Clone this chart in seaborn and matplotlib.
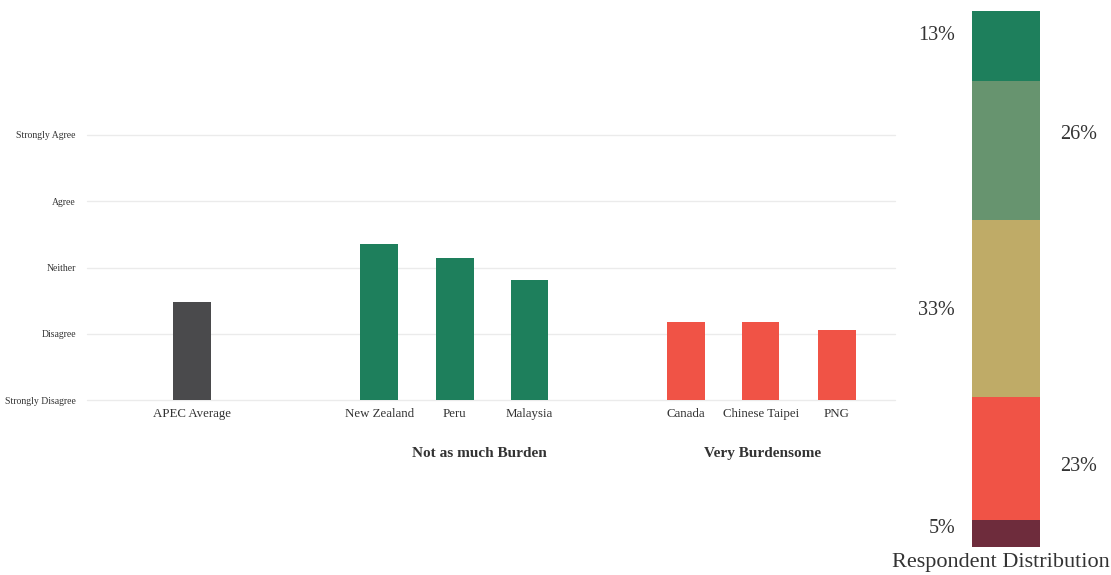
import matplotlib
matplotlib.use('Agg')
import matplotlib.pyplot as plt
import pandas as pd
import seaborn as sns

# datos
paises = ['APEC Average', 'New Zealand', 'Peru', 'Malaysia', 'Canada', 'Chinese Taipei', 'PNG']
posiciones = [0, 2.48, 3.48, 4.47, 6.54, 7.53, 8.54]
puntaje = [2.48, 3.35, 3.14, 2.81, 2.18, 2.18, 2.06]
colores_barras = ['#4a4a4c', '#1e7f5c', '#1e7f5c', '#1e7f5c', '#f05346', '#f05346', '#f05346']
escala = ['Strongly Disagree', 'Disagree', 'Neither', 'Agree', 'Strongly Agree']
grupos = ['Not as much Burden', 'Very Burdensome']
grupos_x = [3.81, 7.55]

distribucion = [5, 23, 33, 26, 13]
colores_dist = ['#6e2c3c', '#f05346', '#bfab67', '#67946f', '#1e7f5c']
lado_etiqueta = ['left', 'right', 'left', 'right', 'left']
y_etiqueta = [3.4, 15.1, 44.2, 76.9, 95.5]

sns.set_theme(style='white')
plt.rcParams['font.family'] = ['Liberation Serif', 'DejaVu Serif']
texto = '#333333'

fig = plt.figure(figsize=(11.11, 5.75), dpi=100)

# grafico principal
ax = fig.add_axes([87/1111, 175/575, 808/1111, 265/575])
df = pd.DataFrame({'pais': paises, 'x': posiciones, 'y': puntaje})
sns.barplot(data=df, x='x', y='y', hue='pais', palette=dict(zip(paises, colores_barras)),
            native_scale=True, width=0.505, legend=False, ax=ax, saturation=1, linewidth=0)
ax.set_ylim(1, 5)
ax.set_xlim(-1.39, 9.31)
ax.set_yticks(range(1, 6))
ax.set_yticklabels(escala, fontsize=7, color=texto)
ax.set_xticks(posiciones)
ax.set_xticklabels(paises, fontsize=9.3, color=texto)
ax.tick_params(axis='y', length=0, pad=8)
ax.tick_params(axis='x', length=0, pad=6)
ax.yaxis.grid(True, color='#ebebeb', linewidth=1)
for linea in ax.get_ygridlines():
    linea.set_clip_on(False)
ax.set_axisbelow(True)
for s in ax.spines.values():
    s.set_visible(False)
ax.set_xlabel('')
ax.set_ylabel('')
for g, gx in zip(grupos, grupos_x):
    ax.text(gx, 0.19, g, ha='center', va='center', fontsize=11, fontweight='bold',
            color=texto, clip_on=False)

# distribucion de respuestas
ax2 = fig.add_axes([972/1111, 28/575, 68/1111, 536/575])
abajo = 0
for v, c, lado, ye in zip(distribucion, colores_dist, lado_etiqueta, y_etiqueta):
    ax2.bar(0, v, bottom=abajo, width=1, color=c, linewidth=0)
    if lado == 'left':
        ax2.text(-0.75, ye, f'{v}%', ha='right', va='center', fontsize=14.5, color=texto)
    else:
        ax2.text(1.07, ye, f'{v}%', ha='center', va='center', fontsize=14.5, color=texto)
    abajo += v
ax2.set_xlim(-0.5, 0.5)
ax2.set_ylim(0, abajo)
ax2.axis('off')
fig.text(1001/1111, 1 - 563/575, 'Respondent Distribution', ha='center', va='center',
         fontsize=16, color=texto)

fig.savefig('out.png', dpi=100)
